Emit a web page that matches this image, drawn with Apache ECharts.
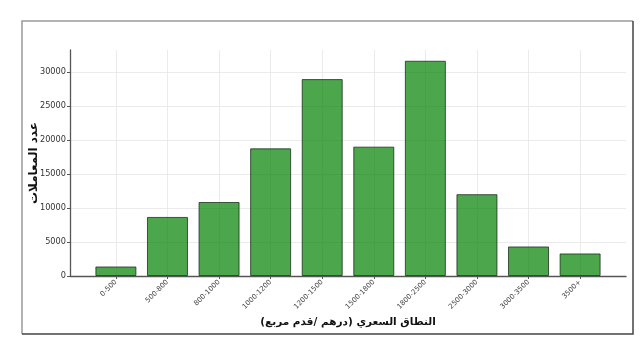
<!DOCTYPE html>
<html>
<head>
<meta charset="utf-8">
<script src="https://cdn.jsdelivr.net/npm/echarts@6/dist/echarts.min.js"></script>
<style>
  html, body { margin: 0; padding: 0; background: #fff; }
  #chart { width: 644px; height: 353px; }
</style>
</head>
<body>
<div id="chart"></div>
<script>
// price ranges (AED / sq ft) and number of transactions
const categories = ["0-500", "500-800", "800-1000", "1000-1200", "1200-1500",
  "1500-1800", "1800-2500", "2500-3000", "3000-3500", "3500+"];
const counts = [1400, 8700, 10900, 18800, 29000, 19050, 31700, 12050, 4350, 3320];
const yTicks = [0, 5000, 10000, 15000, 20000, 25000, 30000];

const xTitle = "النطاق السعري (درهم /قدم مربع)";
const yTitle = "عدد المعاملات";

const positions = categories.map((c, i) => i);

const chart = echarts.init(document.getElementById("chart"), null, { renderer: "canvas" });

const option = {
  animation: false,
  backgroundColor: "#fff",
  textStyle: { fontFamily: "DejaVu Sans" },
  grid: { left: 70, right: 18, top: 50, bottom: 77, containLabel: false },
  graphic: [
    // figure frame
    { type: "polyline", shape: { points: [[22, 334], [22, 21], [633, 21]] },
      style: { stroke: "#9a9a9a", lineWidth: 1.5, fill: null } },
    { type: "polyline", shape: { points: [[633, 21], [633, 334], [22, 334]] },
      style: { stroke: "#444", lineWidth: 1.5, fill: null } }
  ],
  xAxis: {
    type: "value",
    min: -0.89,
    max: 9.89,
    name: xTitle,
    nameLocation: "middle",
    nameGap: 41,
    nameMoveOverlap: false,
    nameTextStyle: { fontSize: 10.5, fontWeight: "bold", color: "#111", fontFamily: "DejaVu Sans" },
    axisLine: { show: true, onZero: false, lineStyle: { color: "#555", width: 1.3 } },
    axisTick: { show: true, length: 3, customValues: positions, lineStyle: { color: "#555" } },
    axisLabel: {
      customValues: positions,
      rotate: 45,
      fontSize: 7,
      color: "#444",
      margin: 5,
      formatter: (v) => categories[Math.round(v)]
    },
    splitLine: { show: true, customValues: positions, lineStyle: { color: "#e6e6e6", width: 0.8 } }
  },
  yAxis: {
    type: "value",
    min: 0,
    max: 33285,
    interval: 5000,
    name: yTitle,
    nameLocation: "middle",
    nameGap: 30,
    nameRotate: 90,
    nameMoveOverlap: false,
    nameTextStyle: { fontSize: 12, fontWeight: "bold", color: "#111", fontFamily: "DejaVu Sans" },
    axisLine: { show: true, onZero: false, lineStyle: { color: "#555", width: 1.3 } },
    axisTick: { show: true, length: 3, lineStyle: { color: "#555" } },
    axisLabel: {
      fontSize: 8.2,
      color: "#333",
      margin: 4,
      showMaxLabel: false,
      formatter: (v) => (yTicks.indexOf(v) >= 0 ? String(v) : "")
    },
    splitLine: { show: true, showMaxLine: false, lineStyle: { color: "#e6e6e6", width: 0.8 } }
  },
  series: [
    {
      type: "bar",
      barWidth: 41,
      data: counts.map((v, i) => [positions[i], v]),
      itemStyle: {
        color: "rgba(0,128,0,0.7)",
        borderColor: "rgba(20,40,20,0.75)",
        borderWidth: 1
      }
    }
  ]
};

chart.setOption(option);
</script>
</body>
</html>
